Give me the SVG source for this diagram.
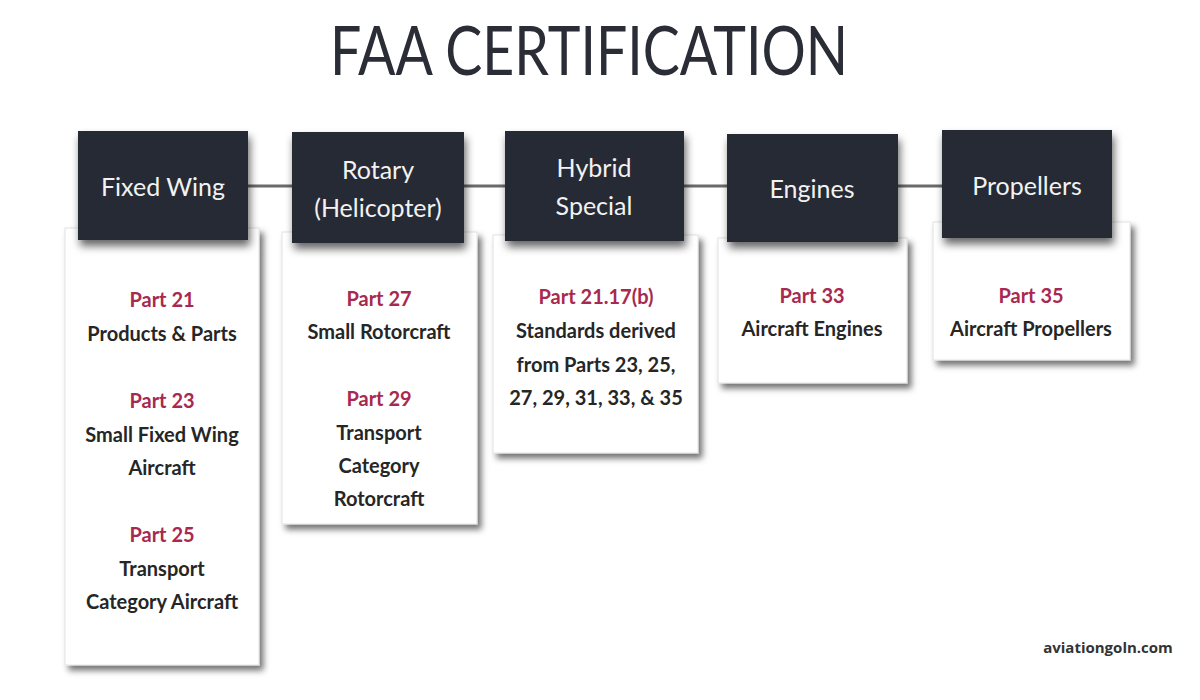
<svg xmlns="http://www.w3.org/2000/svg" width="1200" height="700" viewBox="0 0 1200 700">
<defs>
<filter id="sh" x="-20%" y="-20%" width="150%" height="150%">
<feDropShadow dx="4" dy="5" stdDeviation="3" flood-color="#000" flood-opacity="0.55"/>
</filter>
<filter id="shd" x="-20%" y="-20%" width="150%" height="150%">
<feDropShadow dx="2" dy="6" stdDeviation="4" flood-color="#000" flood-opacity="0.6"/>
</filter>
</defs>
<style>
.card{fill:#ffffff;stroke:#e2e2e2;stroke-width:1;filter:url(#sh)}
.head{fill:#272a36;filter:url(#shd)}
.ht{font-family:Lato,"Open Sans",sans-serif;font-size:25px;fill:#f2f2f2;text-anchor:middle}
.pt{font-family:Lato,"Open Sans",sans-serif;font-size:20px;font-weight:bold;fill:#a8294f;text-anchor:middle}
.bt{font-family:Lato,"Open Sans",sans-serif;font-size:20px;font-weight:bold;fill:#262626;text-anchor:middle}
.conn{stroke:#6a6a6a;stroke-width:3}
</style>
<rect width="1200" height="700" fill="#ffffff"/>
<text x="330" y="75" textLength="518" lengthAdjust="spacingAndGlyphs" font-family="Lato,'Open Sans',sans-serif" font-size="68" font-weight="400" fill="#2a2c36">FAA CERTIFICATION</text>
<g id="connectors">
<line class="conn" x1="248" y1="186" x2="292" y2="186"/>
<line class="conn" x1="464" y1="186" x2="505" y2="186"/>
<line class="conn" x1="684" y1="186" x2="727" y2="186"/>
<line class="conn" x1="898" y1="186" x2="942" y2="186"/>
</g>
<g id="fixed-wing">
<rect class="card" x="65" y="228" width="194" height="437"/>
<rect class="head" x="78" y="131" width="170" height="109"/>
<text class="ht" x="163" y="196">Fixed Wing</text>
<text class="pt" x="162" y="307">Part 21</text>
<text class="bt" x="162" y="341">Products &amp; Parts</text>
<text class="pt" x="162" y="408">Part 23</text>
<text class="bt" x="162" y="442">Small Fixed Wing</text>
<text class="bt" x="162" y="475">Aircraft</text>
<text class="pt" x="162" y="542">Part 25</text>
<text class="bt" x="162" y="576">Transport</text>
<text class="bt" x="162" y="609">Category Aircraft</text>
</g>
<g id="rotary">
<rect class="card" x="282" y="232" width="195" height="292"/>
<rect class="head" x="292" y="132" width="172" height="111"/>
<text class="ht" x="378" y="179">Rotary</text>
<text class="ht" x="378" y="217">(Helicopter)</text>
<text class="pt" x="379" y="306">Part 27</text>
<text class="bt" x="379" y="339">Small Rotorcraft</text>
<text class="pt" x="379" y="406">Part 29</text>
<text class="bt" x="379" y="440">Transport</text>
<text class="bt" x="379" y="473">Category</text>
<text class="bt" x="379" y="506">Rotorcraft</text>
</g>
<g id="hybrid">
<rect class="card" x="493" y="235" width="205" height="218"/>
<rect class="head" x="505" y="131" width="179" height="110"/>
<text class="ht" x="594" y="177">Hybrid</text>
<text class="ht" x="594" y="215">Special</text>
<text class="pt" x="596" y="304">Part 21.17(b)</text>
<text class="bt" x="596" y="338">Standards derived</text>
<text class="bt" x="596" y="372">from Parts 23, 25,</text>
<text class="bt" x="596" y="405">27, 29, 31, 33, &amp; 35</text>
</g>
<g id="engines">
<rect class="card" x="718" y="238" width="189" height="145"/>
<rect class="head" x="727" y="134" width="171" height="108"/>
<text class="ht" x="812" y="198">Engines</text>
<text class="pt" x="812" y="303">Part 33</text>
<text class="bt" x="812" y="336">Aircraft Engines</text>
</g>
<g id="propellers">
<rect class="card" x="933" y="222" width="197" height="138"/>
<rect class="head" x="942" y="130" width="170" height="108"/>
<text class="ht" x="1027" y="195">Propellers</text>
<text class="pt" x="1031" y="303">Part 35</text>
<text class="bt" x="1031" y="336">Aircraft Propellers</text>
</g>
<text x="1108" y="653" font-family="'Open Sans','DejaVu Sans',sans-serif" font-size="15" font-weight="bold" fill="#333333" text-anchor="middle">aviationgoln.com</text>
</svg>
